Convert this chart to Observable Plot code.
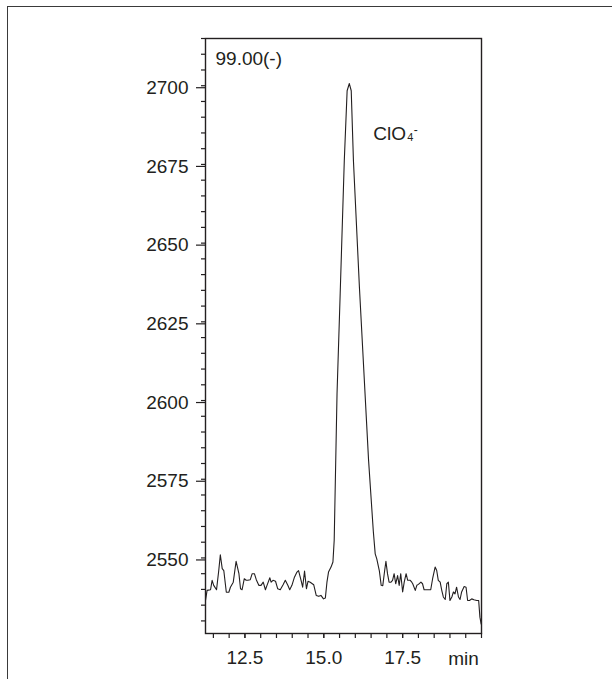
<!DOCTYPE html>
<html><head><meta charset="utf-8">
<script src="https://cdn.jsdelivr.net/npm/d3@7"></script>
<script src="https://cdn.jsdelivr.net/npm/@observablehq/plot@0.6"></script>
<style>
html,body{margin:0;padding:0;background:#fff;}
#wrap{position:relative;width:612px;height:679px;overflow:hidden;}
#wrap svg{position:absolute;left:0;top:0;}
#border{position:absolute;left:7px;top:6px;width:700px;height:800px;border-top:1.5px solid #3a3a3a;border-left:1.5px solid #3a3a3a;pointer-events:none;}
</style></head><body><div id="wrap"><div id="border"></div></div>
<script>
// retention time (min)
const time = [11.25,11.30,11.41,11.46,11.51,11.60,11.67,11.72,11.78,11.83,11.91,11.99,12.04,12.13,12.18,12.22,12.31,12.36,12.41,12.48,12.54,12.59,12.67,12.73,12.80,12.86,12.94,13.01,13.08,13.15,13.20,13.29,13.33,13.39,13.47,13.54,13.62,13.71,13.78,13.86,13.92,13.99,14.07,14.15,14.20,14.28,14.33,14.39,14.45,14.50,14.57,14.68,14.76,14.84,14.91,14.99,15.05,15.10,15.15,15.23,15.29,15.33,15.42,15.52,15.65,15.74,15.81,15.87,15.94,16.13,16.42,16.57,16.63,16.68,16.76,16.82,16.87,16.93,16.97,17.02,17.07,17.13,17.18,17.23,17.28,17.34,17.39,17.44,17.50,17.55,17.61,17.66,17.74,17.79,17.82,17.90,17.95,18.00,18.08,18.13,18.18,18.24,18.32,18.39,18.45,18.53,18.58,18.63,18.69,18.74,18.79,18.85,18.90,18.95,19.00,19.06,19.11,19.16,19.21,19.27,19.32,19.37,19.45,19.51,19.56,19.62,19.69,19.76,19.85,19.91,19.95,19.99];
// detector signal
const signal = [2536.5,2539.7,2539.9,2542.9,2541.3,2539.9,2546.0,2551.0,2546.6,2546.0,2539.1,2539.1,2540.7,2542.3,2546.0,2548.9,2545.0,2540.2,2539.9,2543.4,2542.9,2542.9,2543.1,2545.0,2545.0,2543.1,2541.3,2541.3,2542.3,2539.9,2541.3,2543.7,2542.3,2542.9,2542.6,2540.2,2539.9,2541.5,2542.9,2541.3,2539.9,2541.3,2543.9,2545.5,2546.0,2542.9,2540.7,2545.8,2540.2,2542.6,2542.3,2541.5,2538.1,2537.8,2538.1,2537.0,2537.3,2542.3,2545.5,2547.1,2548.7,2555.6,2602.2,2634.0,2676.2,2698.4,2700.7,2698.4,2676.2,2635.9,2581.0,2558.5,2551.3,2549.7,2546.0,2541.3,2541.2,2546.0,2548.9,2545.0,2542.3,2542.3,2542.9,2545.0,2541.8,2544.4,2541.3,2545.0,2539.2,2542.3,2545.0,2542.9,2542.9,2542.3,2541.8,2539.7,2541.3,2541.6,2542.3,2541.8,2539.9,2539.9,2539.9,2539.9,2543.4,2547.1,2546.0,2542.9,2542.3,2539.7,2537.6,2536.8,2541.8,2542.3,2536.5,2537.6,2539.2,2538.6,2540.7,2537.6,2536.8,2539.2,2540.9,2540.7,2536.5,2536.5,2537.0,2536.7,2536.5,2536.5,2531.2,2529.0];

const yMajorTicks = [2550, 2575, 2600, 2625, 2650, 2675, 2700];
const yMinorTicks = [2530,2535,2540,2545,2550,2555,2560,2565,2570,2575,2580,2585,2590,2595,2600,2605,2610,2615,2620,2625,2630,2635,2640,2645,2650,2655,2660,2665,2670,2675,2680,2685,2690,2695,2700,2705,2710,2715];
const xMajorTicks = [12.5, 15.0, 17.5];
const xMinorTicks = [11.5,12,12.5,13,13.5,14,14.5,15,15.5,16,16.5,17,17.5,18,18.5,19,19.5,20];
const xUnitLabel = "min";
const channelLabel = "99.00(-)";
const peakLabel = ["ClO", "4", "-"];

const ink = "#231f20";
const font = "'Liberation Sans', Arial, Helvetica, sans-serif";

const data = time.map((t, i) => ({t, v: signal[i]}));
const peak = [data.reduce((a, b) => (b.v > a.v ? b : a))];

const chart = Plot.plot({
  width: 612,
  height: 679,
  marginLeft: 205,
  marginRight: 131,
  marginTop: 38,
  marginBottom: 46,
  style: {fontFamily: font, fontSize: "19px", color: ink, background: "transparent"},
  x: {domain: [11.25, 20.0], axis: null},
  y: {domain: [2526, 2715], axis: null},
  marks: [
    Plot.axisY(yMinorTicks, {tickSize: 4, tickFormat: () => "", label: null, stroke: ink, strokeWidth: 1.2}),
    Plot.axisY(yMajorTicks, {tickSize: 9, tickPadding: 8, tickFormat: d => String(d), label: null, stroke: ink, strokeWidth: 1.2, fill: ink, fontSize: 19, dy: 2}),
    Plot.axisX(xMinorTicks, {tickSize: 5, tickFormat: () => "", label: null, stroke: ink, strokeWidth: 1.2}),
    Plot.axisX(xMajorTicks, {tickSize: 5, tickPadding: 12, tickFormat: d3.format(".1f"), label: null, stroke: ink, strokeWidth: 1.2, fill: ink, fontSize: 19}),
    Plot.text([xUnitLabel], {frameAnchor: "bottom-right", text: d => d, dx: -18, dy: 31, textAnchor: "middle", lineAnchor: "bottom", fontSize: 19, fill: ink}),
    Plot.line(data, {x: "t", y: "v", stroke: ink, strokeWidth: 1.1, clip: true}),
    Plot.frame({stroke: ink, strokeWidth: 1.4}),
    Plot.text([channelLabel], {frameAnchor: "top-left", text: d => d, dx: 10, dy: 20.5, textAnchor: "start", lineAnchor: "middle", fontSize: 19, fill: ink}),
    Plot.text(peak, {x: "t", y: "v", text: () => peakLabel[0], dx: 24, dy: 56, textAnchor: "start", lineAnchor: "bottom", fontSize: 19, fill: ink}),
    Plot.text(peak, {x: "t", y: "v", text: () => peakLabel[1], dx: 58, dy: 57, textAnchor: "start", lineAnchor: "bottom", fontSize: 11, fill: ink}),
    Plot.text(peak, {x: "t", y: "v", text: () => peakLabel[2], dx: 64.5, dy: 50, textAnchor: "start", lineAnchor: "bottom", fontSize: 12, fill: ink})
  ]
});
document.getElementById("wrap").prepend(chart);
</script>
</body></html>
